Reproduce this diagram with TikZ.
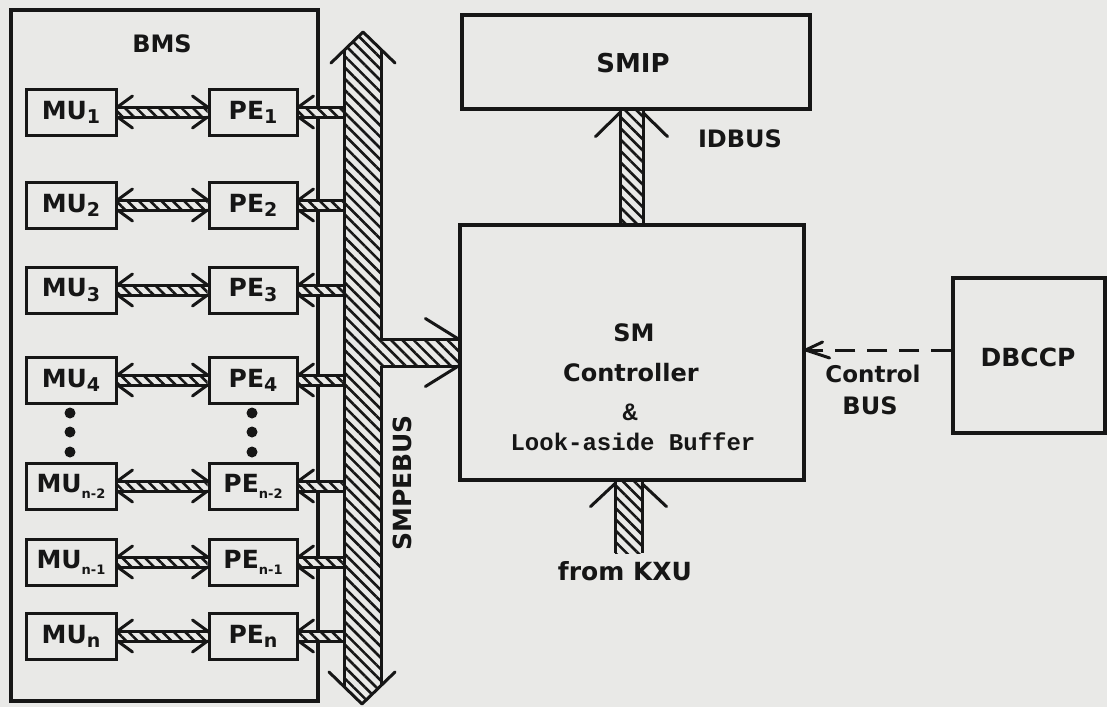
\documentclass[tikz,border=0pt]{standalone}
\usepackage{fontspec}
\setmainfont{DejaVu Sans}
\newfontfamily\monof{Liberation Mono}
\usetikzlibrary{patterns.meta,calc}
\definecolor{paper}{RGB}{233,233,231}
\definecolor{ink}{RGB}{22,22,22}
\newcommand\sbd[1]{\raisebox{-0.3ex}{\fontsize{19}{19}\selectfont #1}}
\newcommand\sbn[1]{\raisebox{-0.45ex}{\fontsize{13}{13}\selectfont #1}}
\newcommand\smallband[2]{%
  \path[hatch] ($(#1)+(0,-5)$) rectangle ($(#2)+(0,5)$);
  \draw[edgeline] ($(#1)+(0,-5)$) -- ($(#2)+(0,-5)$) ($(#1)+(0,5)$) -- ($(#2)+(0,5)$);}
\newcommand\wingR[1]{\draw[wing] ($(#1)+(-15,-16)$) -- ($(#1)+(0,-5)$) ($(#1)+(-15,16)$) -- ($(#1)+(0,5)$);}
\newcommand\wingL[1]{\draw[wing] ($(#1)+(15,-16)$) -- ($(#1)+(0,-5)$) ($(#1)+(15,16)$) -- ($(#1)+(0,5)$);}
\tikzset{
  lbl/.style={font=\bfseries\fontsize{24}{24}\selectfont, text=ink, inner sep=0pt},
  unitbox/.style={draw=ink, line width=3pt, minimum height=46pt, inner sep=0pt,
    font=\bfseries\fontsize{25}{25}\selectfont, text=ink},
  mubox/.style={unitbox, minimum width=90pt},
  pebox/.style={unitbox, minimum width=88pt},
  bigbox/.style={draw=ink, line width=3.2pt, inner sep=0pt},
  hatch/.style={preaction={fill=paper}, pattern={Lines[angle=-45,distance=8pt,line width=2.6pt]}, pattern color=ink},
  edgeline/.style={draw=ink, line width=3pt},
  wing/.style={draw=ink, line width=3pt, line cap=round, line join=round},
}
\begin{document}
\begin{tikzpicture}[x=1pt,y=-1pt]
\fill[paper] (0,0) rectangle (1107,707);
% BMS enclosure
\node[bigbox, minimum width=307pt, minimum height=691pt] (bms) at (164.5,355.5) {};
\node[lbl] (bmslbl) at (162,44) {BMS};
% bus edges
\coordinate (busL) at (344,0);
\coordinate (busR) at (381,0);
% rows
\foreach \i/\yy/\s in {1/112/\sbd{1}, 2/205/\sbd{2}, 3/290/\sbd{3}, 4/380/\sbd{4},
    5/486/\sbn{n-2}, 6/562/\sbn{n-1}, 7/636/\sbd{n}} {
  \node[mubox] (mu\i) at (71,\yy) {MU\s};
  \node[pebox] (pe\i) at (253,\yy) {PE\s};
  \smallband{mu\i.east}{pe\i.west}
  \wingL{mu\i.east}
  \wingR{pe\i.west}
  \smallband{pe\i.east}{pe\i.east -| busL}
  \wingL{pe\i.east}
}
% dots
\foreach \yy in {413,432,452} {
  \fill[ink] (70,\yy) circle (5.5);
  \fill[ink] (252,\yy) circle (5.5);
}
% other boxes
\node[bigbox, minimum width=348pt, minimum height=94pt] (smip) at (636,62) {};
\node[lbl, font=\bfseries\fontsize{26}{26}\selectfont] (smiplbl) at (633,63) {SMIP};
\node[bigbox, minimum width=344pt, minimum height=255pt] (ctrl) at (632,352.5) {};
\node[bigbox, minimum width=152pt, minimum height=155pt] (dbccp) at (1029,355.5) {};
\node[lbl, font=\bfseries\fontsize{25}{25}\selectfont] (dbccplbl) at (1028,357) {DBCCP};
\node[lbl] (smlbl) at (634,333) {SM};
\node[lbl] (ctllbl) at (631,373) {Controller};
\node[lbl, font=\monof\bfseries\fontsize{25}{25}\selectfont] (amplbl) at (630,412) {\&};
\node[lbl, font=\monof\bfseries\fontsize{24}{24}\selectfont] (lablbl) at (633,442) {Look-aside Buffer};
% SMPE bus
\coordinate (bustop) at (363,32);
\coordinate (busbot) at (362,704);
\path[hatch] (344,50.4) -- (bustop) -- (381,49.4) -- (381,685.6) -- (busbot) -- (344,686.5) -- cycle;
\draw[edgeline] (344,50.4) -- (344,686.5);
\draw[edgeline] (381,49.4) -- (busR |- 0,339);
\draw[edgeline] (381,685.6) -- (busR |- 0,366);
\path[hatch] (379,339) rectangle ($(ctrl.west)+(0,13.5)$);
\draw[edgeline] (busR |- 0,339) -- ($(ctrl.west)+(0,-13.5)$);
\draw[edgeline] (busR |- 0,366) -- ($(ctrl.west)+(0,13.5)$);
\draw[wing] (331,63) -- (bustop) -- (395,63);
\draw[wing] (329,672) -- (busbot) -- (395,672);
\draw[wing] ($(ctrl.west)+(-33,-34)$) -- ($(ctrl.west)+(0,-13.5)$);
\draw[wing] ($(ctrl.west)+(-33,34)$) -- ($(ctrl.west)+(0,13.5)$);
\node[lbl, font=\bfseries\fontsize{25}{25}\selectfont, rotate=90] (buslbl) at (402,483) {SMPEBUS};
% IDBUS
\coordinate (idb) at (631.5,0);
\path[hatch] ($(idb |- smip.south)+(-11.5,0)$) rectangle ($(idb |- ctrl.north)+(11.5,0)$);
\draw[edgeline] ($(idb |- smip.south)+(-11.5,0)$) -- ($(idb |- ctrl.north)+(-11.5,0)$);
\draw[edgeline] ($(idb |- smip.south)+(11.5,0)$) -- ($(idb |- ctrl.north)+(11.5,0)$);
\draw[wing] ($(idb |- smip.south)+(-36,26)$) -- ($(idb |- smip.south)+(-11.5,2)$);
\draw[wing] ($(idb |- smip.south)+(36,26)$) -- ($(idb |- smip.south)+(11.5,2)$);
\node[lbl] (idbuslbl) at (740,139) {IDBUS};
% from KXU
\node[lbl, font=\bfseries\fontsize{25}{25}\selectfont] (kxulbl) at (625,571) {from KXU};
\coordinate (kxuend) at (628.5,553);
\path[hatch] ($(kxuend)+(-13.5,0)$) rectangle ($(kxuend |- ctrl.south)+(13.5,0)$);
\draw[edgeline] ($(kxuend)+(-13.5,0)$) -- ($(kxuend |- ctrl.south)+(-13.5,0)$);
\draw[edgeline] ($(kxuend)+(13.5,0)$) -- ($(kxuend |- ctrl.south)+(13.5,0)$);
\draw[wing] ($(kxuend |- ctrl.south)+(-38,25)$) -- ($(kxuend |- ctrl.south)+(-13.5,2)$);
\draw[wing] ($(kxuend |- ctrl.south)+(38,25)$) -- ($(kxuend |- ctrl.south)+(13.5,2)$);
% control bus
\draw[draw=ink, line width=3pt, dash pattern=on 20pt off 12pt] (dbccp.west |- 0,350) -- (ctrl.east |- 0,350);
\draw[wing] ($(ctrl.east |- 0,350)+(17,-8)$) -- (ctrl.east |- 0,350) -- ($(ctrl.east |- 0,350)+(24,8)$);
\node[lbl, font=\bfseries\fontsize{23}{23}\selectfont] (ctlbus1) at (873,374) {Control};
\node[lbl] (ctlbus2) at (870,406) {BUS};
\end{tikzpicture}
\end{document}
